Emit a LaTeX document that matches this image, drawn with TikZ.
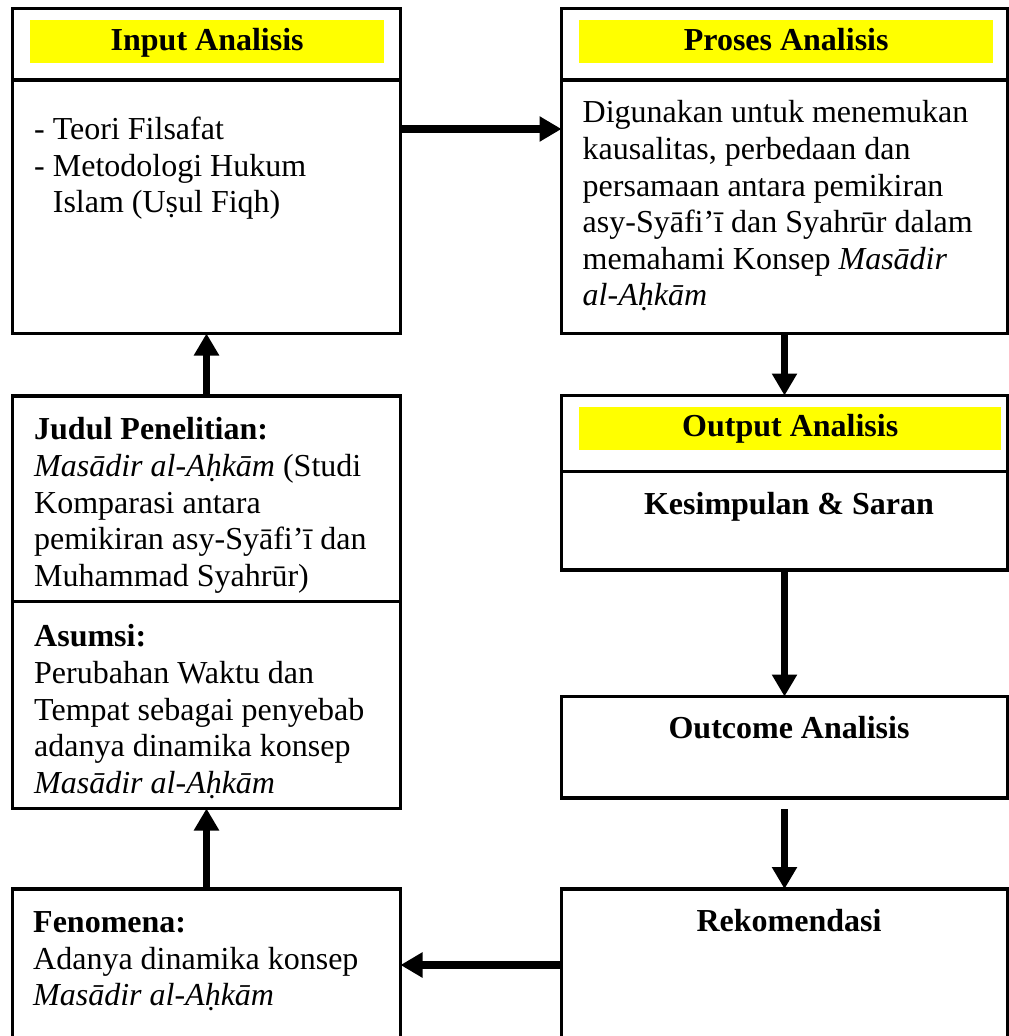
\documentclass[tikz,border=0pt]{standalone}
\usepackage{fontspec}
\setmainfont{Liberation Serif}
\usetikzlibrary{positioning,arrows.meta,calc}
\definecolor{ink}{HTML}{000000}
\definecolor{hilite}{HTML}{FFFF00}
\tikzset{
  >={Triangle[length=22pt,width=24pt]},
  flow/.style={->, line width=7.5pt, draw=ink},
  frame/.style={draw=ink, line width=3.3pt, outer sep=0pt, inner sep=0pt, fill=white},
  head/.style={frame, minimum height=71.5pt},
  body/.style={frame},
  band/.style={fill=hilite, minimum height=42.7pt, inner sep=0pt, text height=24pt, text depth=6.6pt,
               font=\fontsize{32}{36.6}\selectfont\bfseries, anchor=north west},
  txt/.style={font=\fontsize{32}{36.6}\selectfont, align=left, inner sep=0pt, anchor=north west},
  ttl/.style={font=\fontsize{32}{36.6}\selectfont\bfseries, inner sep=0pt, anchor=base},
}

\begin{document}
\begin{tikzpicture}[x=1pt, y=1pt]
\useasboundingbox (0,0) rectangle (1009,-1036);
\clip (0,0) rectangle (1009,-1036);

% --- right column -----------------------------------------------------------------------
\node[head, minimum width=388pt, anchor=north west] (inphead) at (12.5,-8.5) {};
\node[body, minimum width=388pt, minimum height=253.5pt, below=0pt of inphead] (inpbody) {};
\node[head, minimum width=446pt, right=161pt of inphead] (prohead) {};
\node[body, minimum width=446pt, minimum height=253.5pt, below=0pt of prohead] (probody) {};
\node[head, minimum width=446pt, minimum height=76pt, below=62pt of probody] (outhead) {};
\node[body, minimum width=446pt, minimum height=98.5pt, below=0pt of outhead] (outbody) {};
\node[body, minimum width=446pt, minimum height=101.5pt, below=126.5pt of outbody] (outc) {};
\node[body, minimum width=446pt, minimum height=152pt, below=91pt of outc] (rek) {};

% --- left column ------------------------------------------------------------------------
\node[body, minimum width=388pt, minimum height=205.5pt, below=62.5pt of inpbody] (judul) {};
\node[body, minimum width=388pt, minimum height=207pt, below=0pt of judul] (asumsi) {};
\node[body, minimum width=388pt, minimum height=152pt, below=80.5pt of asumsi] (fen) {};

% --- yellow titles ----------------------------------------------------------------------
\node[band, minimum width=354pt, below right=11.5pt and 17.5pt of inphead.north west] (inptitle) {Input Analisis};
\node[band, minimum width=414pt, below right=11.5pt and 17.5pt of prohead.north west] (protitle) {Proses Analisis};
\node[band, minimum width=422pt, below right=11.2pt and 17.5pt of outhead.north west] (outtitle) {Output Analisis};

% --- box texts --------------------------------------------------------------------------
\node[txt] (inptext) at ($(inpbody.north west)+(21.5,-33.6)$)
  {\strut- Teori Filsafat\\- Metodologi Hukum\\\hphantom{- }Islam (Uṣul Fiqh)};
\node[txt] (protext) at ($(probody.north west)+(21,-17.1)$)
  {\strut Digunakan untuk menemukan\\kausalitas, perbedaan dan\\persamaan antara pemikiran\\
   asy-Syāfi’ī dan Syahrūr dalam\\memahami Konsep \textit{Masādir}\\\textit{al-Aḥkām}};
\node[ttl] (kes) at ($(outbody.north)+(4.5,-42.5)$) {Kesimpulan \& Saran};
\node[ttl] (outctext) at ($(outc.north)+(4.5,-42)$) {Outcome Analisis};
\node[ttl] (rektext) at ($(rek.north)+(4.5,-42)$) {Rekomendasi};
\node[txt] (judultext) at ($(judul.north west)+(21.5,-18.1)$)
  {\strut\textbf{Judul Penelitian:}\\\textit{Masādir al-Aḥkām} (Studi\\Komparasi antara\\
   pemikiran asy-Syāfi’ī dan\\Muhammad Syahrūr)};
\node[txt] (asumsitext) at ($(asumsi.north west)+(21.5,-19.6)$)
  {\strut\textbf{Asumsi:}\\Perubahan Waktu dan\\Tempat sebagai penyebab\\adanya dinamika konsep\\
   \textit{Masādir al-Aḥkām}};
\node[txt] (fentext) at ($(fen.north west)+(20.5,-17.6)$)
  {\strut\textbf{Fenomena:}\\Adanya dinamika konsep\\\textit{Masādir al-Aḥkām}};

% --- flow -------------------------------------------------------------------------------
\draw[flow] ([yshift=77.75pt]inpbody.east) -- ([yshift=77.75pt]probody.west);
\draw[flow] (probody.south) -- (outhead.north);
\draw[flow] (outbody.south) -- (outc.north);
\draw[flow, shorten <=11pt] (outc.south) -- (rek.north);
\draw[flow] (rek.west) -- (fen.east);
\draw[flow] (fen.north) -- (asumsi.south);
\draw[flow] (judul.north) -- (inpbody.south);

\end{tikzpicture}
\end{document}
